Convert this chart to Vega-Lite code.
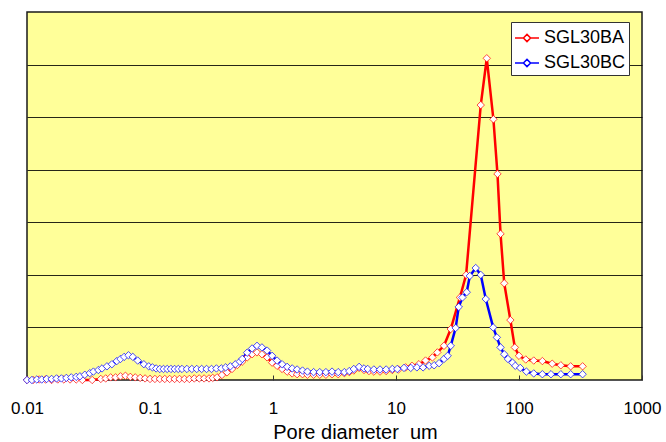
{
  "$schema": "https://vega.github.io/schema/vega-lite/v6.json",
  "width": 615,
  "height": 368,
  "autosize": {"type": "none"},
  "padding": {"left": 27, "top": 12, "right": 24, "bottom": 62},
  "background": "white",
  "config": {
    "font": "Liberation Sans",
    "view": {"fill": "#FFFF99", "stroke": "#1a1a1a", "strokeWidth": 1.5}
  },
  "data": {"values": [
    {"sample":"SGL30BA","diameter":0.01,"volume":0.00},
    {"sample":"SGL30BA","diameter":0.01122,"volume":0.00},
    {"sample":"SGL30BA","diameter":0.01259,"volume":0.01},
    {"sample":"SGL30BA","diameter":0.01413,"volume":0.01},
    {"sample":"SGL30BA","diameter":0.01585,"volume":0.00},
    {"sample":"SGL30BA","diameter":0.01778,"volume":0.01},
    {"sample":"SGL30BA","diameter":0.01995,"volume":0.01},
    {"sample":"SGL30BA","diameter":0.02239,"volume":0.01},
    {"sample":"SGL30BA","diameter":0.02512,"volume":0.01},
    {"sample":"SGL30BA","diameter":0.02818,"volume":0.00},
    {"sample":"SGL30BA","diameter":0.03388,"volume":0.00},
    {"sample":"SGL30BA","diameter":0.03981,"volume":0.02},
    {"sample":"SGL30BA","diameter":0.04365,"volume":0.03},
    {"sample":"SGL30BA","diameter":0.04786,"volume":0.05},
    {"sample":"SGL30BA","diameter":0.05248,"volume":0.05},
    {"sample":"SGL30BA","diameter":0.05754,"volume":0.07},
    {"sample":"SGL30BA","diameter":0.06310,"volume":0.08},
    {"sample":"SGL30BA","diameter":0.06918,"volume":0.06},
    {"sample":"SGL30BA","diameter":0.07586,"volume":0.05},
    {"sample":"SGL30BA","diameter":0.08318,"volume":0.04},
    {"sample":"SGL30BA","diameter":0.09120,"volume":0.03},
    {"sample":"SGL30BA","diameter":0.1,"volume":0.02},
    {"sample":"SGL30BA","diameter":0.1096,"volume":0.02},
    {"sample":"SGL30BA","diameter":0.1202,"volume":0.02},
    {"sample":"SGL30BA","diameter":0.1318,"volume":0.02},
    {"sample":"SGL30BA","diameter":0.1445,"volume":0.02},
    {"sample":"SGL30BA","diameter":0.1585,"volume":0.02},
    {"sample":"SGL30BA","diameter":0.1738,"volume":0.02},
    {"sample":"SGL30BA","diameter":0.1905,"volume":0.02},
    {"sample":"SGL30BA","diameter":0.2089,"volume":0.02},
    {"sample":"SGL30BA","diameter":0.2291,"volume":0.03},
    {"sample":"SGL30BA","diameter":0.2512,"volume":0.03},
    {"sample":"SGL30BA","diameter":0.2754,"volume":0.03},
    {"sample":"SGL30BA","diameter":0.3020,"volume":0.03},
    {"sample":"SGL30BA","diameter":0.3236,"volume":0.04},
    {"sample":"SGL30BA","diameter":0.3508,"volume":0.05},
    {"sample":"SGL30BA","diameter":0.3846,"volume":0.095},
    {"sample":"SGL30BA","diameter":0.4227,"volume":0.145},
    {"sample":"SGL30BA","diameter":0.4645,"volume":0.21},
    {"sample":"SGL30BA","diameter":0.5129,"volume":0.285},
    {"sample":"SGL30BA","diameter":0.5623,"volume":0.35},
    {"sample":"SGL30BA","diameter":0.6166,"volume":0.43},
    {"sample":"SGL30BA","diameter":0.6761,"volume":0.49},
    {"sample":"SGL30BA","diameter":0.7413,"volume":0.525},
    {"sample":"SGL30BA","diameter":0.8128,"volume":0.49},
    {"sample":"SGL30BA","diameter":0.8954,"volume":0.43},
    {"sample":"SGL30BA","diameter":0.9840,"volume":0.33},
    {"sample":"SGL30BA","diameter":1.079,"volume":0.27},
    {"sample":"SGL30BA","diameter":1.186,"volume":0.21},
    {"sample":"SGL30BA","diameter":1.303,"volume":0.16},
    {"sample":"SGL30BA","diameter":1.432,"volume":0.125},
    {"sample":"SGL30BA","diameter":1.570,"volume":0.11},
    {"sample":"SGL30BA","diameter":1.738,"volume":0.11},
    {"sample":"SGL30BA","diameter":1.905,"volume":0.10},
    {"sample":"SGL30BA","diameter":2.138,"volume":0.10},
    {"sample":"SGL30BA","diameter":2.399,"volume":0.10},
    {"sample":"SGL30BA","diameter":2.692,"volume":0.10},
    {"sample":"SGL30BA","diameter":3.020,"volume":0.11},
    {"sample":"SGL30BA","diameter":3.388,"volume":0.11},
    {"sample":"SGL30BA","diameter":3.802,"volume":0.13},
    {"sample":"SGL30BA","diameter":4.169,"volume":0.15},
    {"sample":"SGL30BA","diameter":4.539,"volume":0.18},
    {"sample":"SGL30BA","diameter":5.012,"volume":0.23},
    {"sample":"SGL30BA","diameter":5.495,"volume":0.19},
    {"sample":"SGL30BA","diameter":6.026,"volume":0.17},
    {"sample":"SGL30BA","diameter":6.607,"volume":0.16},
    {"sample":"SGL30BA","diameter":7.413,"volume":0.16},
    {"sample":"SGL30BA","diameter":8.318,"volume":0.17},
    {"sample":"SGL30BA","diameter":9.333,"volume":0.19},
    {"sample":"SGL30BA","diameter":10.47,"volume":0.20},
    {"sample":"SGL30BA","diameter":11.97,"volume":0.24},
    {"sample":"SGL30BA","diameter":13.49,"volume":0.27},
    {"sample":"SGL30BA","diameter":15.35,"volume":0.30},
    {"sample":"SGL30BA","diameter":17.38,"volume":0.37},
    {"sample":"SGL30BA","diameter":19.77,"volume":0.43},
    {"sample":"SGL30BA","diameter":21.68,"volume":0.525},
    {"sample":"SGL30BA","diameter":24.55,"volume":0.65},
    {"sample":"SGL30BA","diameter":27.86,"volume":0.97},
    {"sample":"SGL30BA","diameter":33.11,"volume":1.57},
    {"sample":"SGL30BA","diameter":37.15,"volume":2.00},
    {"sample":"SGL30BA","diameter":48.87,"volume":5.23},
    {"sample":"SGL30BA","diameter":54.70,"volume":6.12},
    {"sample":"SGL30BA","diameter":61.94,"volume":4.96},
    {"sample":"SGL30BA","diameter":66.83,"volume":3.92},
    {"sample":"SGL30BA","diameter":70.79,"volume":2.78},
    {"sample":"SGL30BA","diameter":75.86,"volume":1.84},
    {"sample":"SGL30BA","diameter":85.11,"volume":1.14},
    {"sample":"SGL30BA","diameter":92.47,"volume":0.62},
    {"sample":"SGL30BA","diameter":100,"volume":0.46},
    {"sample":"SGL30BA","diameter":113.5,"volume":0.39},
    {"sample":"SGL30BA","diameter":131.8,"volume":0.37},
    {"sample":"SGL30BA","diameter":154.9,"volume":0.36},
    {"sample":"SGL30BA","diameter":186.2,"volume":0.31},
    {"sample":"SGL30BA","diameter":218.8,"volume":0.28},
    {"sample":"SGL30BA","diameter":263.0,"volume":0.26},
    {"sample":"SGL30BA","diameter":328.9,"volume":0.26},
    {"sample":"SGL30BC","diameter":0.01,"volume":0.00},
    {"sample":"SGL30BC","diameter":0.01096,"volume":0.00},
    {"sample":"SGL30BC","diameter":0.01202,"volume":0.01},
    {"sample":"SGL30BC","diameter":0.01318,"volume":0.01},
    {"sample":"SGL30BC","diameter":0.01445,"volume":0.02},
    {"sample":"SGL30BC","diameter":0.01585,"volume":0.02},
    {"sample":"SGL30BC","diameter":0.01738,"volume":0.03},
    {"sample":"SGL30BC","diameter":0.01905,"volume":0.03},
    {"sample":"SGL30BC","diameter":0.02089,"volume":0.04},
    {"sample":"SGL30BC","diameter":0.02291,"volume":0.05},
    {"sample":"SGL30BC","diameter":0.02512,"volume":0.06},
    {"sample":"SGL30BC","diameter":0.02692,"volume":0.07},
    {"sample":"SGL30BC","diameter":0.02951,"volume":0.10},
    {"sample":"SGL30BC","diameter":0.03236,"volume":0.13},
    {"sample":"SGL30BC","diameter":0.03467,"volume":0.16},
    {"sample":"SGL30BC","diameter":0.03802,"volume":0.19},
    {"sample":"SGL30BC","diameter":0.04074,"volume":0.22},
    {"sample":"SGL30BC","diameter":0.04467,"volume":0.26},
    {"sample":"SGL30BC","diameter":0.04898,"volume":0.30},
    {"sample":"SGL30BC","diameter":0.05370,"volume":0.36},
    {"sample":"SGL30BC","diameter":0.05754,"volume":0.40},
    {"sample":"SGL30BC","diameter":0.06166,"volume":0.44},
    {"sample":"SGL30BC","diameter":0.06683,"volume":0.47},
    {"sample":"SGL30BC","diameter":0.07244,"volume":0.44},
    {"sample":"SGL30BC","diameter":0.07943,"volume":0.37},
    {"sample":"SGL30BC","diameter":0.08913,"volume":0.30},
    {"sample":"SGL30BC","diameter":0.09772,"volume":0.26},
    {"sample":"SGL30BC","diameter":0.1047,"volume":0.24},
    {"sample":"SGL30BC","diameter":0.1122,"volume":0.22},
    {"sample":"SGL30BC","diameter":0.1202,"volume":0.21},
    {"sample":"SGL30BC","diameter":0.1288,"volume":0.21},
    {"sample":"SGL30BC","diameter":0.1380,"volume":0.21},
    {"sample":"SGL30BC","diameter":0.1479,"volume":0.21},
    {"sample":"SGL30BC","diameter":0.1585,"volume":0.21},
    {"sample":"SGL30BC","diameter":0.1698,"volume":0.21},
    {"sample":"SGL30BC","diameter":0.1820,"volume":0.21},
    {"sample":"SGL30BC","diameter":0.1995,"volume":0.21},
    {"sample":"SGL30BC","diameter":0.2188,"volume":0.21},
    {"sample":"SGL30BC","diameter":0.2399,"volume":0.21},
    {"sample":"SGL30BC","diameter":0.2630,"volume":0.21},
    {"sample":"SGL30BC","diameter":0.2884,"volume":0.21},
    {"sample":"SGL30BC","diameter":0.3162,"volume":0.21},
    {"sample":"SGL30BC","diameter":0.3467,"volume":0.22},
    {"sample":"SGL30BC","diameter":0.3802,"volume":0.22},
    {"sample":"SGL30BC","diameter":0.4121,"volume":0.24},
    {"sample":"SGL30BC","diameter":0.4498,"volume":0.26},
    {"sample":"SGL30BC","diameter":0.4943,"volume":0.30},
    {"sample":"SGL30BC","diameter":0.5370,"volume":0.35},
    {"sample":"SGL30BC","diameter":0.5623,"volume":0.40},
    {"sample":"SGL30BC","diameter":0.6166,"volume":0.52},
    {"sample":"SGL30BC","diameter":0.6761,"volume":0.60},
    {"sample":"SGL30BC","diameter":0.7413,"volume":0.65},
    {"sample":"SGL30BC","diameter":0.8128,"volume":0.62},
    {"sample":"SGL30BC","diameter":0.8954,"volume":0.56},
    {"sample":"SGL30BC","diameter":0.9840,"volume":0.46},
    {"sample":"SGL30BC","diameter":1.079,"volume":0.37},
    {"sample":"SGL30BC","diameter":1.186,"volume":0.30},
    {"sample":"SGL30BC","diameter":1.303,"volume":0.25},
    {"sample":"SGL30BC","diameter":1.432,"volume":0.22},
    {"sample":"SGL30BC","diameter":1.570,"volume":0.20},
    {"sample":"SGL30BC","diameter":1.738,"volume":0.18},
    {"sample":"SGL30BC","diameter":1.905,"volume":0.16},
    {"sample":"SGL30BC","diameter":2.138,"volume":0.15},
    {"sample":"SGL30BC","diameter":2.399,"volume":0.15},
    {"sample":"SGL30BC","diameter":2.692,"volume":0.15},
    {"sample":"SGL30BC","diameter":3.020,"volume":0.16},
    {"sample":"SGL30BC","diameter":3.388,"volume":0.15},
    {"sample":"SGL30BC","diameter":3.802,"volume":0.15},
    {"sample":"SGL30BC","diameter":4.169,"volume":0.17},
    {"sample":"SGL30BC","diameter":4.539,"volume":0.21},
    {"sample":"SGL30BC","diameter":5.012,"volume":0.25},
    {"sample":"SGL30BC","diameter":5.495,"volume":0.22},
    {"sample":"SGL30BC","diameter":5.888,"volume":0.21},
    {"sample":"SGL30BC","diameter":6.607,"volume":0.20},
    {"sample":"SGL30BC","diameter":7.413,"volume":0.20},
    {"sample":"SGL30BC","diameter":8.318,"volume":0.20},
    {"sample":"SGL30BC","diameter":9.333,"volume":0.21},
    {"sample":"SGL30BC","diameter":10.23,"volume":0.21},
    {"sample":"SGL30BC","diameter":11.61,"volume":0.23},
    {"sample":"SGL30BC","diameter":13.18,"volume":0.23},
    {"sample":"SGL30BC","diameter":14.79,"volume":0.24},
    {"sample":"SGL30BC","diameter":16.60,"volume":0.24},
    {"sample":"SGL30BC","diameter":18.62,"volume":0.27},
    {"sample":"SGL30BC","diameter":20.42,"volume":0.28},
    {"sample":"SGL30BC","diameter":22.39,"volume":0.32},
    {"sample":"SGL30BC","diameter":24.55,"volume":0.40},
    {"sample":"SGL30BC","diameter":26.30,"volume":0.46},
    {"sample":"SGL30BC","diameter":27.86,"volume":0.65},
    {"sample":"SGL30BC","diameter":30.55,"volume":0.99},
    {"sample":"SGL30BC","diameter":32.36,"volume":1.39},
    {"sample":"SGL30BC","diameter":34.67,"volume":1.57},
    {"sample":"SGL30BC","diameter":37.58,"volume":1.67},
    {"sample":"SGL30BC","diameter":39.81,"volume":1.98},
    {"sample":"SGL30BC","diameter":44.46,"volume":2.13},
    {"sample":"SGL30BC","diameter":48.87,"volume":2.00},
    {"sample":"SGL30BC","diameter":53.70,"volume":1.54},
    {"sample":"SGL30BC","diameter":61.66,"volume":1.00},
    {"sample":"SGL30BC","diameter":66.07,"volume":0.81},
    {"sample":"SGL30BC","diameter":70.79,"volume":0.62},
    {"sample":"SGL30BC","diameter":75.86,"volume":0.49},
    {"sample":"SGL30BC","diameter":81.28,"volume":0.40},
    {"sample":"SGL30BC","diameter":88.51,"volume":0.33},
    {"sample":"SGL30BC","diameter":93.33,"volume":0.27},
    {"sample":"SGL30BC","diameter":102.3,"volume":0.23},
    {"sample":"SGL30BC","diameter":114.8,"volume":0.16},
    {"sample":"SGL30BC","diameter":131.8,"volume":0.125},
    {"sample":"SGL30BC","diameter":154.9,"volume":0.11},
    {"sample":"SGL30BC","diameter":182.0,"volume":0.11},
    {"sample":"SGL30BC","diameter":218.8,"volume":0.11},
    {"sample":"SGL30BC","diameter":263.0,"volume":0.11},
    {"sample":"SGL30BC","diameter":328.9,"volume":0.11}
  ]},
  "encoding": {
    "x": {
      "field": "diameter", "type": "quantitative",
      "scale": {"type": "log", "domain": [0.01, 1000], "nice": false},
      "axis": {
        "title": "Pore diameter \u00a0um",
        "values": [0.01, 0.1, 1, 10, 100, 1000],
        "format": "~g",
        "grid": false,
        "domain": false,
        "tickSize": -5,
        "tickColor": "#333333",
        "labelFontSize": 17,
        "labelColor": "#000000",
        "labelPadding": 25,
        "labelFlush": false,
        "labelOverlap": false,
        "titleFontSize": 20,
        "titleFontWeight": "normal",
        "titleColor": "#000000",
        "titlePadding": 6,
        "titleX": 328
      }
    },
    "y": {
      "field": "volume", "type": "quantitative",
      "scale": {"domain": [0, 7], "nice": false, "zero": true},
      "axis": {
        "title": null,
        "values": [1, 2, 3, 4, 5, 6],
        "labels": false,
        "ticks": false,
        "domain": false,
        "grid": true,
        "gridColor": "#000000",
        "gridOpacity": 0.85,
        "gridWidth": 1
      }
    },
    "color": {
      "field": "sample", "type": "nominal",
      "scale": {"domain": ["SGL30BA", "SGL30BC"], "range": ["#FF0000", "#0000FF"]},
      "legend": {
        "title": null,
        "orient": "none",
        "legendX": 484,
        "legendY": 10,
        "fillColor": "white",
        "strokeColor": "#333333",
        "padding": 3,
        "labelFontSize": 18,
        "labelColor": "#000000",
        "labelLimit": 200,
        "labelOffset": 4,
        "rowPadding": 3,
        "symbolType": "M-1,0H-0.32M0.32,0H1M-0.3,0L0,-0.3L0.3,0L0,0.3Z",
        "symbolSize": 576,
        "symbolStrokeWidth": 1.5,
        "symbolFillColor": "white"
      }
    }
  },
  "layer": [
    {"mark": {"type": "line", "strokeWidth": 2.5}},
    {"mark": {"type": "point", "shape": "diamond", "filled": false, "fill": "white", "fillOpacity": 1, "size": 55, "strokeWidth": 1, "strokeOpacity": 0.7, "opacity": 1}}
  ]
}
